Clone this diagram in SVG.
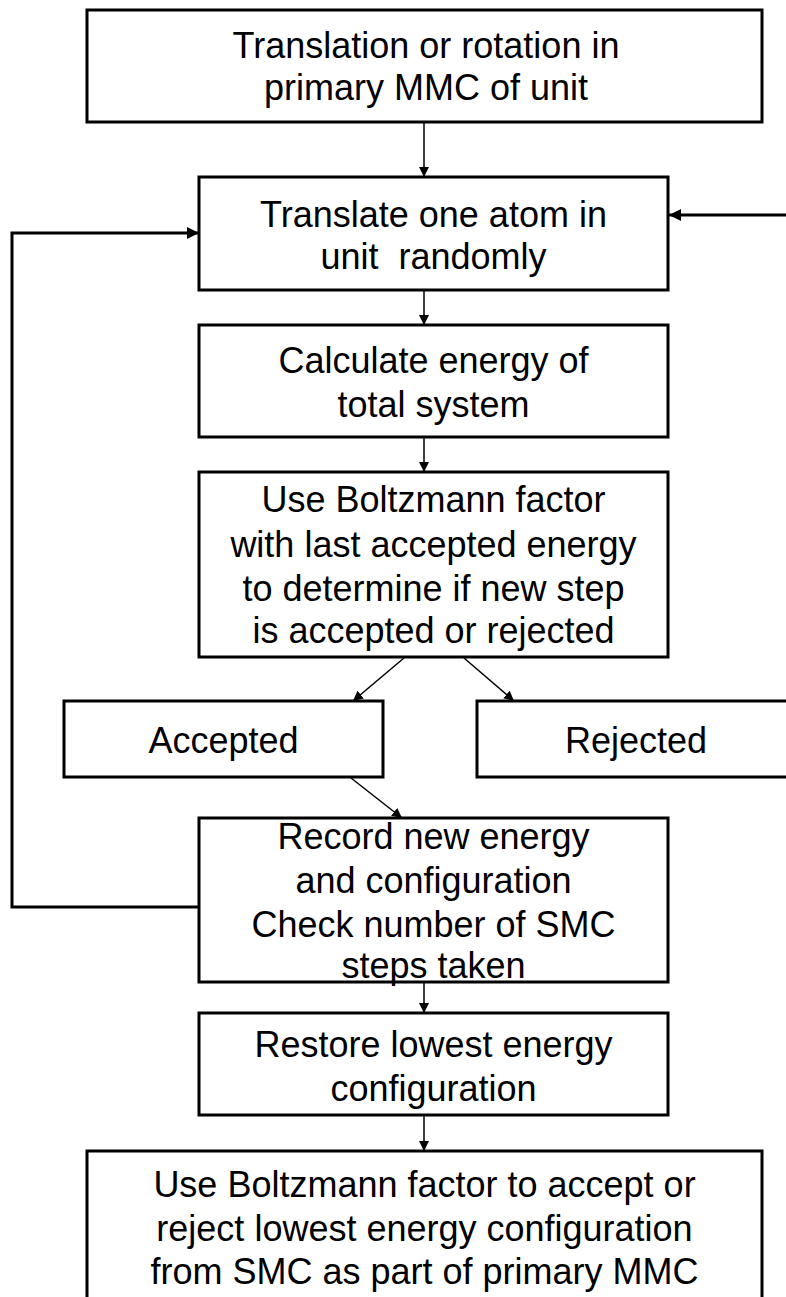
<svg xmlns="http://www.w3.org/2000/svg" width="786" height="1297" viewBox="0 0 786 1297">
<defs>
<style>
.box{fill:#fff;stroke:#000;stroke-width:3}
.t{font-family:"Liberation Sans",Arial,sans-serif;font-size:36px;fill:#000;text-anchor:middle;white-space:pre}
.thin{fill:none;stroke:#000;stroke-width:1.5}
.thick{fill:none;stroke:#000;stroke-width:3}
</style>
<marker id="ah" viewBox="0 0 10 10" refX="10" refY="5" markerWidth="10" markerHeight="11" markerUnits="userSpaceOnUse" orient="auto"><path d="M0,0 L10,5 L0,10 z" fill="#000"/></marker>
<marker id="ahb" viewBox="0 0 10 10" refX="10" refY="5" markerWidth="13" markerHeight="12" markerUnits="userSpaceOnUse" orient="auto"><path d="M0,0 L10,5 L0,10 z" fill="#000"/></marker>
</defs>
<rect width="786" height="1297" fill="#fff"/>
<g id="connectors">
<line class="thin" x1="424" y1="122" x2="424" y2="177" marker-end="url(#ah)"/>
<line class="thin" x1="424" y1="290" x2="424" y2="325" marker-end="url(#ah)"/>
<line class="thin" x1="424" y1="437" x2="424" y2="472" marker-end="url(#ah)"/>
<line class="thin" x1="404" y1="658" x2="353" y2="701" marker-end="url(#ah)"/>
<line class="thin" x1="464" y1="658" x2="514" y2="701" marker-end="url(#ah)"/>
<line class="thin" x1="351" y1="778" x2="402" y2="818" marker-end="url(#ah)"/>
<line class="thin" x1="424" y1="982" x2="424" y2="1013" marker-end="url(#ah)"/>
<line class="thin" x1="424" y1="1115" x2="424" y2="1151" marker-end="url(#ah)"/>
<line class="thick" x1="786" y1="215" x2="669" y2="215" marker-end="url(#ahb)"/>
<polyline class="thick" points="199,907 12,907 12,233 199,233" marker-end="url(#ahb)"/>
</g>
<g id="n1">
<rect class="box" x="87" y="10" width="675" height="112"/>
<text class="t" x="426" y="58">Translation or rotation in</text>
<text class="t" x="426" y="100">primary MMC of unit</text>
</g>
<g id="n2">
<rect class="box" x="199" y="177" width="469" height="113"/>
<text class="t" x="433.5" y="227">Translate one atom in</text>
<text class="t" x="433.5" y="269" xml:space="preserve">unit  randomly</text>
</g>
<g id="n3">
<rect class="box" x="199" y="325" width="469" height="112"/>
<text class="t" x="433.5" y="373">Calculate energy of</text>
<text class="t" x="433.5" y="417">total system</text>
</g>
<g id="n4">
<rect class="box" x="199" y="472" width="469" height="185"/>
<text class="t" x="433.5" y="512">Use Boltzmann factor</text>
<text class="t" x="433.5" y="557">with last accepted energy</text>
<text class="t" x="433.5" y="601">to determine if new step</text>
<text class="t" x="433.5" y="643">is accepted or rejected</text>
</g>
<g id="n5">
<rect class="box" x="64" y="701" width="319" height="76"/>
<text class="t" x="223.5" y="753">Accepted</text>
</g>
<g id="n6">
<rect class="box" x="477" y="701" width="320" height="76"/>
<text class="t" x="636" y="753">Rejected</text>
</g>
<g id="n7">
<rect class="box" x="199" y="818" width="469" height="164"/>
<text class="t" x="433.5" y="849">Record new energy</text>
<text class="t" x="433.5" y="893">and configuration</text>
<text class="t" x="433.5" y="937">Check number of SMC</text>
<text class="t" x="433.5" y="978">steps taken</text>
</g>
<g id="n8">
<rect class="box" x="199" y="1013" width="469" height="102"/>
<text class="t" x="433.5" y="1057">Restore lowest energy</text>
<text class="t" x="433.5" y="1101">configuration</text>
</g>
<g id="n9">
<rect class="box" x="87" y="1151" width="675" height="170"/>
<text class="t" x="424.5" y="1197">Use Boltzmann factor to accept or</text>
<text class="t" x="424.5" y="1241">reject lowest energy configuration</text>
<text class="t" x="424.5" y="1284">from SMC as part of primary MMC</text>
</g>
</svg>
